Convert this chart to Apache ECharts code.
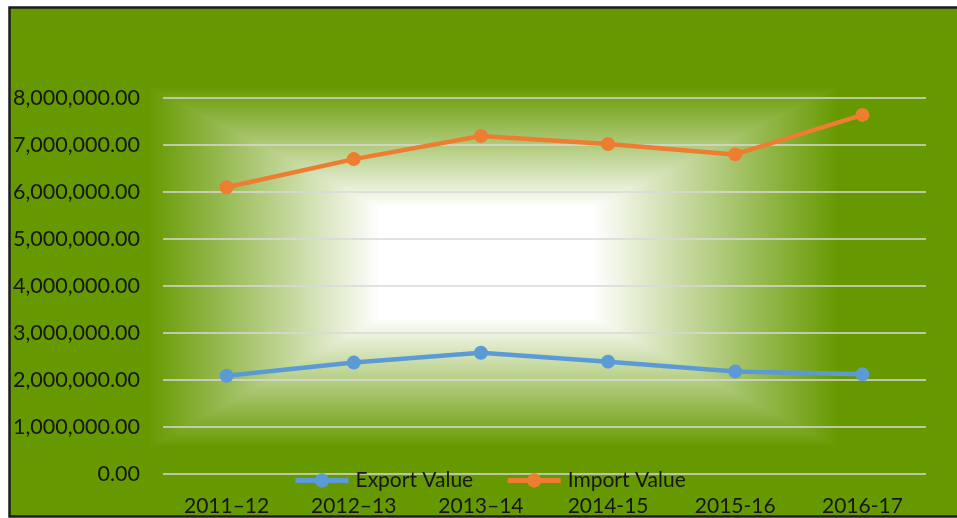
<!DOCTYPE html>
<html>
<head>
<meta charset="utf-8">
<script src="https://cdn.jsdelivr.net/npm/echarts@6/dist/echarts.min.js"></script>
<style>
  html, body { margin: 0; padding: 0; background: #ffffff; }
  #chart { width: 957px; height: 518px; }
</style>
</head>
<body>
<div id="chart"></div>
<script>
// ---- data ----
const categories = ['2011–12', '2012–13', '2013–14', '2014-15', '2015-16', '2016-17'];
const seriesNames = ['Export Value', 'Import Value'];
const exportValue = [2090000, 2370000, 2580000, 2390000, 2180000, 2120000];
const importValue = [6100000, 6700000, 7190000, 7020000, 6800000, 7640000];
const yMin = 0;
const yMax = 8000000;
const yStep = 1000000;

// ---- styling ----
const GREEN = '#669900';
const WHITE = '#ffffff';
const FONT = 'Lato';
const TEXT = '#161616';

function fmt(v) {
  const s = Math.round(v).toString().replace(/\B(?=(\d{3})+(?!\d))/g, ',');
  return s + '.00';
}

// rectangular (path) gradient geometry for the plot background decoration
const gx0 = 148, gx1 = 838, gy0 = 87, gy1 = 447;
const ix0 = 380, ix1 = 593, iy0 = 207, iy1 = 318;

function lg(x, y, x2, y2, c0, c1) {
  return new echarts.graphic.LinearGradient(x, y, x2, y2, [
    { offset: 0, color: c0 }, { offset: 1, color: c1 }
  ]);
}
function trap(points, x, y, x2, y2, c0, c1) {
  return { type: 'polygon', z: -15, silent: true,
    shape: { points: points },
    style: { fill: lg(x, y, x2, y2, c0, c1), stroke: lg(x, y, x2, y2, c0, c1), lineWidth: 1 } };
}

const chart = echarts.init(document.getElementById('chart'), null, { renderer: 'canvas' });

chart.setOption({
  backgroundColor: '#ffffff',
  animation: false,
  graphic: [
    { type: 'rect', z: -20, silent: true,
      shape: { x: 9.5, y: 7.5, width: 1000, height: 509 },
      style: { fill: GREEN, stroke: '#1c1c1c', lineWidth: 2.5 } },
    trap([[gx0, gy0], [gx1, gy0], [ix1, iy0], [ix0, iy0]], 0, 0, 0, 1, GREEN, WHITE),
    trap([[gx0, gy1], [gx1, gy1], [ix1, iy1], [ix0, iy1]], 0, 0, 0, 1, WHITE, GREEN),
    trap([[gx0, gy0], [ix0, iy0], [ix0, iy1], [gx0, gy1]], 0, 0, 1, 0, GREEN, WHITE),
    trap([[gx1, gy0], [ix1, iy0], [ix1, iy1], [gx1, gy1]], 0, 0, 1, 0, WHITE, GREEN),
    { type: 'rect', z: -14, silent: true,
      shape: { x: ix0 - 0.5, y: iy0 - 0.5, width: ix1 - ix0 + 1, height: iy1 - iy0 + 1 },
      style: { fill: WHITE } }
  ],
  grid: { left: 163, right: 31, top: 98, bottom: 44, containLabel: false },
  legend: {
    data: seriesNames,
    left: 293,
    top: 470,
    padding: 0,
    itemWidth: 53,
    itemHeight: 18,
    itemGap: 32,
    lineStyle: { width: 5 },
    textStyle: { fontFamily: FONT, fontSize: 21, color: TEXT, lineHeight: 18, padding: [0, 0, 0, 2] }
  },
  xAxis: {
    type: 'category',
    data: categories,
    boundaryGap: true,
    axisLine: { show: false },
    axisTick: { show: false },
    axisLabel: { fontFamily: FONT, fontSize: 21, color: TEXT, margin: 22, lineHeight: 21 },
    splitLine: { show: false }
  },
  yAxis: {
    type: 'value',
    min: yMin,
    max: yMax,
    interval: yStep,
    axisLine: { show: false },
    axisTick: { show: false },
    axisLabel: { fontFamily: FONT, fontSize: 21.5, color: TEXT, margin: 23, formatter: fmt },
    splitLine: { show: true, lineStyle: { color: '#d9d9d9', width: 1.5 } }
  },
  series: [
    {
      name: seriesNames[0],
      type: 'line',
      data: exportValue,
      symbol: 'circle',
      symbolSize: 14,
      color: '#5b9bd5',
      lineStyle: { width: 4.5, color: '#5b9bd5' },
      itemStyle: { color: '#5b9bd5' },
      z: 3
    },
    {
      name: seriesNames[1],
      type: 'line',
      data: importValue,
      symbol: 'circle',
      symbolSize: 14,
      color: '#ed7d31',
      lineStyle: { width: 4.5, color: '#ed7d31' },
      itemStyle: { color: '#ed7d31' },
      z: 3
    }
  ]
});
</script>
</body>
</html>
